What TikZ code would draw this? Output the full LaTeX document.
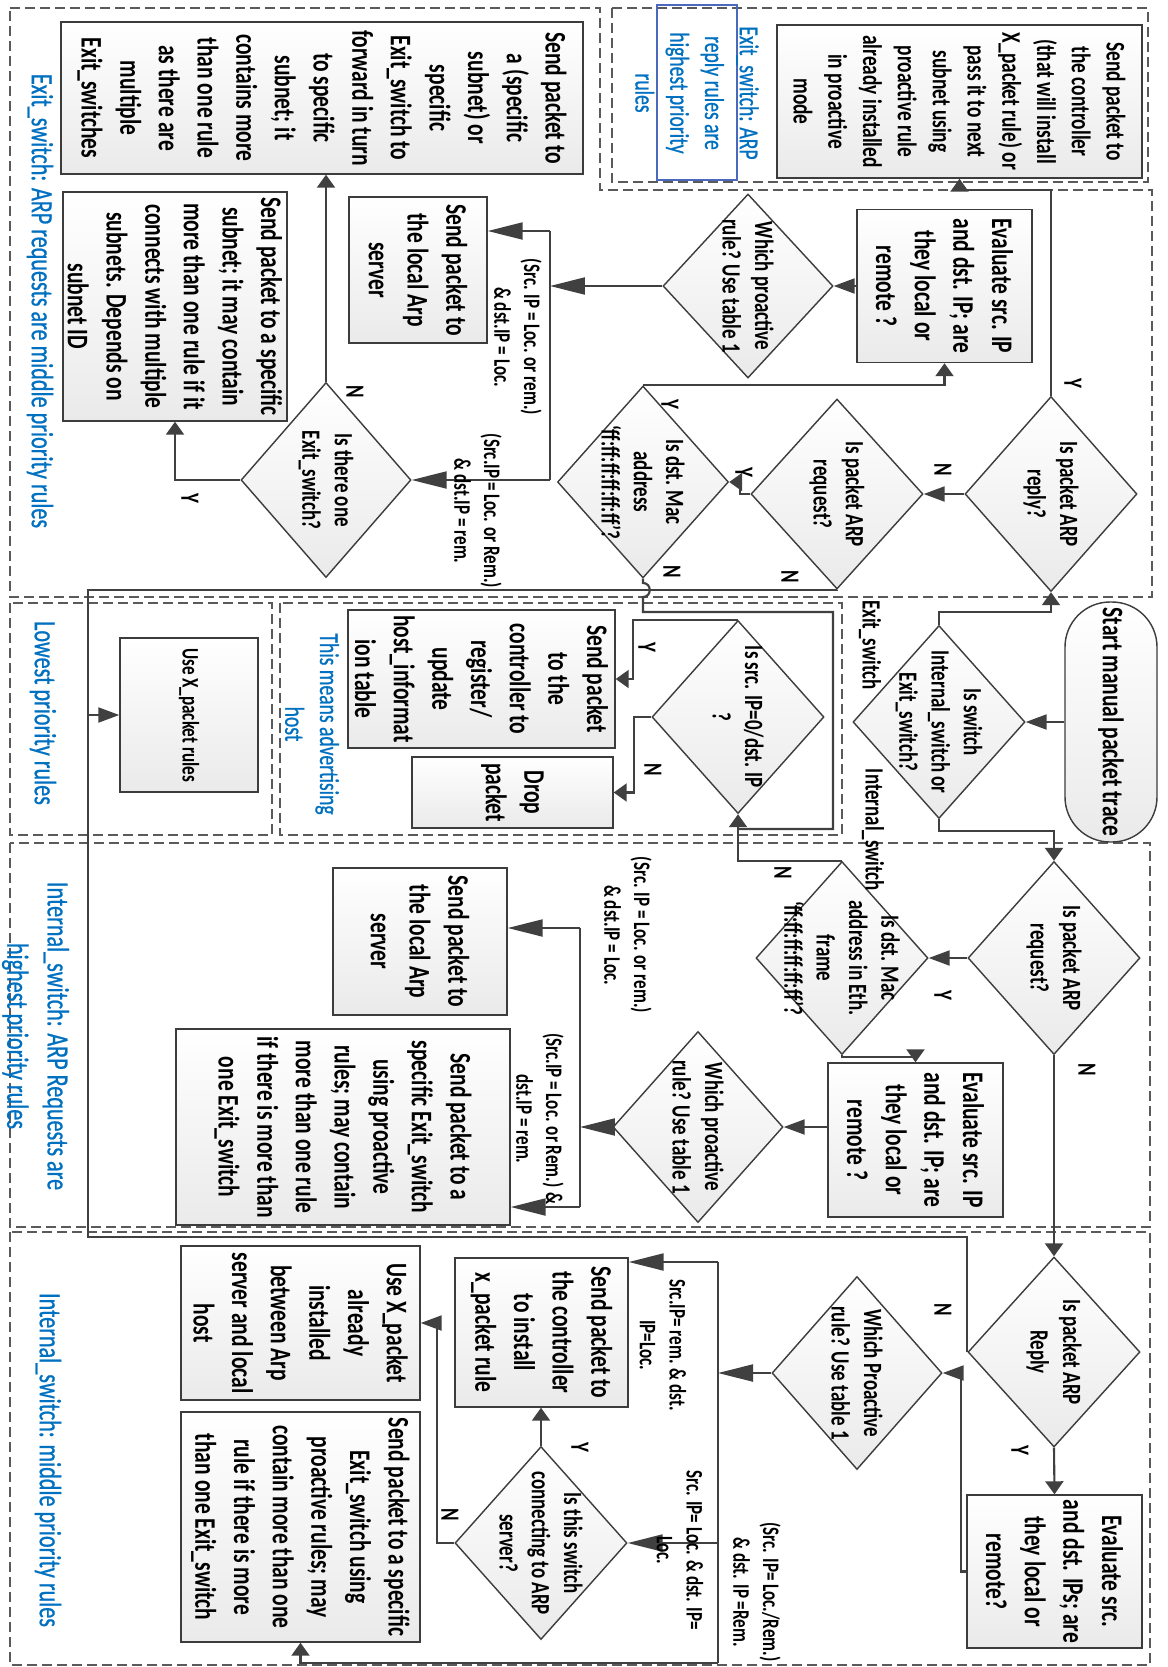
\documentclass[tikz,border=0pt]{standalone}
\usepackage{fontspec}
\setmainfont{Carlito}[FakeStretch=0.72]
\newfontfamily\blueFam{Carlito}[FakeStretch=0.72,FakeBold=0.7]
\usetikzlibrary{arrows.meta,shapes.geometric}
\definecolor{edgec}{HTML}{3C3C3C}
\definecolor{linec}{HTML}{404040}
\definecolor{dashc}{HTML}{5A5A5A}
\definecolor{fillc}{HTML}{EAEAEA}
\definecolor{bluec}{HTML}{0070C0}
\definecolor{bboxc}{HTML}{4A68BC}
\newcommand\bodyF{\bfseries\fontsize{17pt}{22pt}\selectfont}
\newcommand\topF{\bfseries\fontsize{15.3pt}{19.8pt}\selectfont}
\newcommand\diaF{\bfseries\fontsize{15pt}{18.4pt}\selectfont}
\newcommand\condF{\bfseries\fontsize{13.5pt}{17pt}\selectfont}
\newcommand\ynF{\bfseries\fontsize{15pt}{18pt}\selectfont}
\newcommand\blueF{\blueFam\fontsize{17.5pt}{23pt}\selectfont}
\newcommand\bluesF{\blueFam\fontsize{15.5pt}{19.8pt}\selectfont}
\newcommand\useF{\bfseries\fontsize{13.5pt}{16pt}\selectfont}
\newcommand\startF{\bfseries\fontsize{17pt}{20pt}\selectfont}
\begin{document}
\begin{tikzpicture}[x=0.02cm,y=-0.02cm,
  rot/.style={rotate=-90},
  sz/.style 2 args={minimum width=#2*0.02cm,minimum height=#1*0.02cm},
  shade box/.style={top color=white,bottom color=fillc},
  pbox/.style={rot,draw=edgec,line width=0.8pt,inner sep=0pt,align=center,shade box,font=\bodyF},
  pdia/.style={rot,diamond,draw=edgec,line width=0.8pt,inner sep=0pt,shade box},
  dtxt/.style={rot,inner sep=0pt,align=center,font=\diaF},
  lbl/.style={rot,inner sep=0pt,align=center,font=\condF},
  yn/.style={rot,inner sep=0pt,font=\ynF},
  btxt/.style={rot,inner sep=0pt,align=center,text=bluec,font=\blueF},
  region/.style={draw=dashc,line width=0.8pt,dash pattern=on 0.2cm off 0.1cm},
  conn/.style={draw=linec,line width=1.2pt},
  arrS/.style={-{Triangle[length=0.26cm,width=0.36cm]}},
  arrM/.style={-{Triangle[length=0.42cm,width=0.3cm]}},
  arrB/.style={-{Triangle[length=0.7cm,width=0.34cm]}},
]
\fill[white] (0,0) rectangle (1167,1667);
\useasboundingbox (0,0) rectangle (1167,1667);

% ---------- priority group frames ----------
\draw[region] (10,8) -- (600,8) -- (600,190) -- (1152,190) -- (1152,597) -- (10,597) -- cycle;
\draw[region] (612,8) rectangle (1148,182);
\draw[region] (10,603) rectangle (272,835);
\draw[region] (280,603) rectangle (842,835);
\draw[region] (10,843) rectangle (1150,1227);
\draw[region] (10,1232) rectangle (1150,1665);

% ---------- group captions ----------
\node[btxt] (capA) at (40,301) {Exit\_switch: ARP requests are middle priority rules};
\node[rot,draw=bboxc,line width=0.8pt,sz={80}{175}] (capBbox) at (697,92.5) {};
\node[btxt,font=\bluesF] (capB) at (697,93) {Exit\_switch: ARP\\reply rules are\\highest priority\\rules};
\node[btxt] (capC) at (43,713) {Lowest priority rules};
\node[btxt,font=\bluesF] (capD) at (312,724) {This means advertising\\host};
\node[btxt] (capE) at (35.5,1036) {Internal\_switch: ARP Requests are\\highest priority rules};
\node[btxt] (capF) at (48,1460) {Internal\_switch: middle priority rules};

% ---------- start ----------
\node[rot,draw=edgec,line width=0.8pt,rounded corners=0.9cm,sz={92}{240},shade box,inner sep=0pt,font=\startF] (start) at (1111,722) {Start manual packet trace};
\node[pdia,sz={172}{193}] (D1) at (939,722) {};
\node[dtxt] (tD1) at (D1) {Is switch\\Internal\_switch or\\Exit\_switch?};

% ---------- Exit_switch ----------
\node[pbox,font=\topF,sz={365}{153}] (T1) at (959.5,101.5) {Send packet to\\the controller\\(that will install\\X\_packet rule) or\\pass it to next\\subnet using\\proactive rule\\already installed\\in proactive\\mode};
\node[pdia,sz={172}{195}] (D2) at (1051,494) {};
\node[dtxt] (tD2) at (D2) {Is packet ARP\\reply?};
\node[pdia,sz={172}{190}] (D3) at (837,494) {};
\node[dtxt] (tD3) at (D3) {Is packet ARP\\request?};
\node[pdia,sz={171}{192}] (Dmac) at (643,482) {};
\node[dtxt] (tDmac) at (Dmac) {Is dst. Mac\\address\\‘ff:ff:ff:ff:ff:ff’?};
\node[pbox,sz={175}{153}] (E1) at (944.5,286) {Evaluate src. IP\\and dst. IP; are\\they local or\\remote ?};
\node[pdia,sz={170}{184}] (W1) at (748,286) {};
\node[dtxt] (tW1) at (W1) {Which proactive\\rule? Use table 1};
\node[pbox,sz={138}{146}] (L1) at (418,270) {Send packet to\\the local Arp\\server};
\node[pdia,sz={170}{195}] (Dex) at (326,480) {};
\node[dtxt] (tDex) at (Dex) {Is there one\\Exit\_switch?};
\node[pbox,sz={522}{152}] (S1) at (322,98) {Send packet to\\a (specific\\subnet) or\\specific\\Exit\_switch to\\forward in turn\\to specific\\subnet; it\\contains more\\than one rule\\as there are\\multiple\\Exit\_switches};
\node[pbox,sz={224}{229}] (S1b) at (175,306.5) {Send packet to a specific\\subnet; it may contain\\more than one rule if it\\connects with multiple\\subnets. Depends on\\subnet ID};

% ---------- advertising host / lowest ----------
\node[pdia,sz={172}{193}] (Dsrc) at (738,717) {};
\node[dtxt] (tDsrc) at (Dsrc) {Is src. IP=0/dst. IP\\?};
\node[pbox,sz={267}{138}] (Reg) at (481.5,679) {Send packet\\to the\\controller to\\register/\\update\\host\_informat\\ion table};
\node[pbox,sz={201}{71}] (Drop) at (512.5,792.5) {Drop\\packet};
\node[pbox,font=\useF,sz={138}{154}] (UseX) at (189,715) {Use X\_packet rules};

% ---------- Internal_switch ----------
\node[pdia,sz={172}{193}] (D4) at (1054,958) {};
\node[dtxt] (tD4) at (D4) {Is packet ARP\\request?};
\node[pdia,sz={172}{193}] (Dmac2) at (842,958) {};
\node[dtxt] (tDmac2) at (Dmac2) {Is dst. Mac\\address in Eth.\\frame\\‘ff:ff:ff:ff:ff:ff’?};
\node[pbox,sz={175}{154}] (E2) at (915.5,1140) {Evaluate src. IP\\and dst. IP; are\\they local or\\remote ?};
\node[pdia,sz={170}{191}] (W2) at (698,1127) {};
\node[dtxt] (tW2) at (W2) {Which proactive\\rule? Use table 1};
\node[pbox,sz={174}{147}] (L2) at (420,941.5) {Send packet to\\the local Arp\\server};
\node[pbox,sz={334}{196}] (S2) at (343,1127) {Send packet to a\\specific Exit\_switch\\using proactive\\rules; may contain\\more than one rule\\if there is more than\\one Exit\_switch};

\node[pdia,sz={172}{190}] (DIR) at (1054,1352) {};
\node[dtxt] (tDIR) at (DIR) {Is packet ARP\\Reply};
\node[pbox,sz={175}{153}] (E3) at (1054.5,1571.5) {Evaluate src.\\and dst. IPs; are\\they local or\\remote?};
\node[pdia,sz={170}{193}] (W3) at (857,1373) {};
\node[dtxt] (tW3) at (W3) {Which Proactive\\rule? Use table 1};
\node[pbox,sz={173}{149}] (S3) at (541.5,1332.5) {Send packet to\\the controller\\to install\\x\_packet rule};
\node[pdia,sz={172}{193}] (Dconn) at (541,1543) {};
\node[dtxt] (tDconn) at (Dconn) {Is this switch\\connecting to ARP\\server?};
\node[pbox,sz={239}{154}] (Suse) at (300.5,1323) {Use X\_packet\\already\\installed\\between Arp\\server and local\\host};
\node[pbox,sz={239}{230}] (S4) at (300.5,1527) {Send packet to a specific\\Exit\_switch using\\proactive rules; may\\contain more than one\\rule if there is more\\than one Exit\_switch};

% ---------- bus points ----------
\coordinate (bA1) at (550,231);
\coordinate (bA2) at (550,480);
\coordinate (lbTop) at (88,590);
\coordinate (lbMid) at (88,715);
\coordinate (lbBot) at (88,1237);
\coordinate (mrg) at (738,829);
\coordinate (bB1) at (580,928);
\coordinate (bB2) at (580,1207);
\coordinate (bC1) at (718,1262);
\coordinate (bC2) at (718,1543);
\coordinate (bC3) at (718,1663);

% ---------- connectors ----------
\draw[conn,arrM] (start.south) -- (D1.north);
\draw[conn,arrS] (D1.west) -- ++(0,-13) -| (D2.east);
\draw[conn,arrS] (D1.east) -- ++(0,12) -| (D4.west);

\draw[conn,arrM] (D2.south) -- (D3.north);
\draw[conn,arrS] (D2.west) -- ++(0,-206) -| (T1.east);
\draw[conn,arrS] (D3.south) -- ++(-10,0) |- (Dmac.north);
\draw[conn,arrS] (Dmac.west) -| (E1.east);
\draw[conn,arrM] (E1.south) -- (W1.north);
\draw[conn,arrB] (W1.south) -- (W1.south -| bA1);
\draw[conn] (bA1) -- (bA2);
\draw[conn,arrB] (bA1) -- (bA1 -| L1.north);
\draw[conn,arrB] (bA2) -- (bA2 -| Dex.north);
\draw[conn,arrS] (Dex.west) -- (Dex.west |- S1.east);
\draw[conn,arrS] (Dex.south) -| (S1b.east);

\draw[conn] (D3.east) |- (lbTop) -- (lbBot) -| (DIR.south);
\draw[conn,arrM] (lbMid) -- (UseX.south);
\draw[conn] (Dmac.east) -- (643,583) .. controls (652,583) and (652,597) .. (643,597) -- (643,612) -- (833,612) -- (833,829) -- (mrg);
\draw[conn,arrS] (Dmac2.west) -| (Dsrc.east);
\draw[conn,arrS] (Dsrc.west) -- ++(-105,0) |- (Reg.north);
\draw[conn,arrS] (Dsrc.south) -- ++(-17,0) |- (Drop.north);

\draw[conn,arrM] (D4.south) -- (Dmac2.north);
\draw[conn,arrS] (D4.east) -- (DIR.west);
\draw[conn,arrS] (Dmac2.east) -- ++(0,2) -| (E2.west);
\draw[conn,arrM] (E2.south |- W2.north) -- (W2.north);
\draw[conn,arrB] (W2.south) -- (W2.south -| bB1);
\draw[conn] (bB1) -- (bB2);
\draw[conn,arrB] (bB1) -- (bB1 -| L2.north);
\draw[conn,arrB] (bB2) -- (bB2 -| S2.north);

\draw[conn,arrS] (DIR.east) -- (E3.west);
\draw[conn,arrM] (E3.south) -- ++(-5,0) |- (W3.north);
\draw[conn,arrB] (W3.south) -- (W3.south -| bC1);
\draw[conn] (bC1) -- (bC3);
\draw[conn,arrB] (bC1) -- (bC1 -| S3.north);
\draw[conn,arrB] (bC2) -- (bC2 -| Dconn.north);
\draw[conn,arrS] (bC3) -| (S4.east);
\draw[conn,arrS] (Dconn.west) -- (Dconn.west |- S3.east);
\draw[conn,arrM] (Dconn.south) -- ++(-17,0) |- (Suse.north);

% ---------- branch labels ----------
\node[yn] (lkEx) at (870,645) {Exit\_switch};
\node[yn] (lkIn) at (873,830) {Internal\_switch};
\node[yn] (y1) at (1073,383) {Y};
\node[yn] (n1) at (943,470) {N};
\node[yn] (n2) at (790,577) {N};
\node[yn] (y2) at (744,472) {Y};
\node[yn] (y3) at (670,404) {Y};
\node[yn] (n3) at (672,572) {N};
\node[yn] (n4) at (355,392) {N};
\node[yn] (y4) at (190,498) {Y};
\node[yn] (y5) at (647,647) {Y};
\node[yn] (n5) at (653,770) {N};
\node[yn] (y6) at (943,995) {Y};
\node[yn] (n6) at (1087,1070) {N};
\node[yn] (n7) at (783,873) {N};
\node[yn] (n8) at (943,1310) {N};
\node[yn] (y7) at (1020,1450) {Y};
\node[yn] (y8) at (580,1447) {Y};
\node[yn] (n9) at (450,1515) {N};

\node[lbl] (c1) at (518,337) {(Src. IP = Loc. or rem.)\\\& dst.IP = Loc.};
\node[lbl] (c2) at (478,511) {(Src.IP = Loc. or Rem.)\\\& dst.IP = rem.};
\node[lbl] (c3) at (628,935) {(Src. IP = Loc. or rem.)\\\& dst.IP = Loc.};
\node[lbl] (c4) at (540,1119) {(Src.IP = Loc. or Rem.) \&\\dst.IP = rem.};
\node[lbl] (c5) at (663,1345) {Src.IP= rem. \& dst.\\IP=Loc.};
\node[lbl] (c6) at (680,1550) {Src. IP= Loc. \& dst. IP=\\Loc.};
\node[lbl] (c7) at (757,1592) {(Src. IP= Loc./Rem.)\\\& dst. IP =Rem.};
\end{tikzpicture}
\end{document}
